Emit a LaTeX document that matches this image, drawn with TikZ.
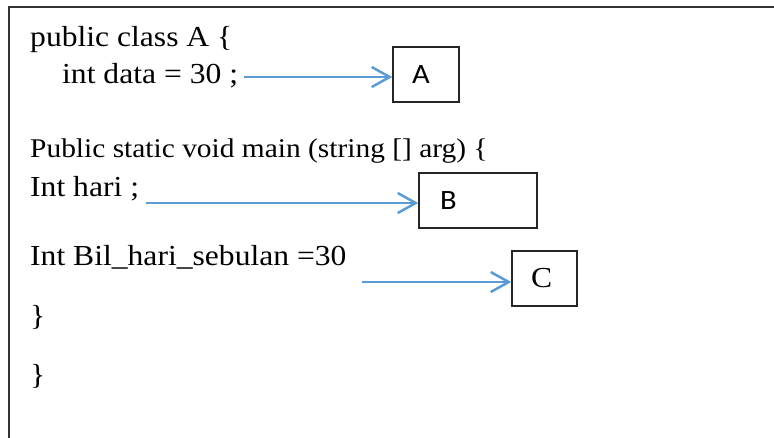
\documentclass[tikz,border=0pt]{standalone}
\usepackage{fontspec}
\usepackage{graphicx}
\setmainfont{Liberation Serif}
\newfontfamily\boxfont{Carlito}
\usetikzlibrary{arrows.meta}
\definecolor{arrowblue}{RGB}{91,155,213}
\newcommand{\wide}[1]{\scalebox{1.09}[1]{#1}}
\tikzset{
	codeline/.style={anchor=base west, inner sep=0pt, font=\fontsize{29}{34}\selectfont},
	varbox/.style={draw=black!85, line width=1.4pt, inner ysep=0pt, minimum height=55pt, align=left},
	pointer/.style={draw=arrowblue, line width=2.5pt, -{Straight Barb[length=18pt,width=20pt]}}
}

\begin{document}
\begin{tikzpicture}[x=1pt,y=-1pt]

			\useasboundingbox (0,0) rectangle (774,437);
			\clip (0,0) rectangle (774,437);

			% Frame round the code
			\draw[black!80, line width=1.5pt] (9,460) -- (9,7) -- (800,7);

			% Lines of code
			\node[codeline] (l1) at (30,46) {\wide{public class A \{}};
			\node[codeline] (l2) at (62,83) {\wide{int data = 30 ;}};
			\node[codeline, font=\fontsize{27}{32}\selectfont] (l3) at (30,157) {\wide{Public static void main (string [] arg) \{}};
			\node[codeline] (l4) at (30,196) {\wide{Int hari ;}};
			\node[codeline] (l5) at (30,265) {\wide{Int Bil\_hari\_sebulan =30}};
			\node[codeline] (l6) at (30,325) {\wide{\}}};
			\node[codeline] (l7) at (30,384) {\wide{\}}};

			% The boxes
			\node[varbox, font=\boxfont\fontsize{28}{30}\selectfont, inner xsep=19pt, text width=28pt] (A) at (426,74.5) {\wide{A}};
			\node[varbox, font=\boxfont\fontsize{28}{30}\selectfont, inner xsep=21pt, text width=76pt] (B) at (478,200.5) {\wide{B}};
			\node[varbox, font=\fontsize{29}{32}\selectfont, inner xsep=19pt, text width=27pt] (C) at (544.5,278.5) {\wide{C}};

			% Arrows into the boxes
			\coordinate (sA) at (244,77);
			\coordinate (sB) at (146,203);
			\coordinate (sC) at (362,282);
			\draw[pointer] (sA) -- (sA -| A.west);
			\draw[pointer] (sB) -- (sB -| B.west);
			\draw[pointer] (sC) -- (sC -| C.west);

		\end{tikzpicture}
\end{document}
